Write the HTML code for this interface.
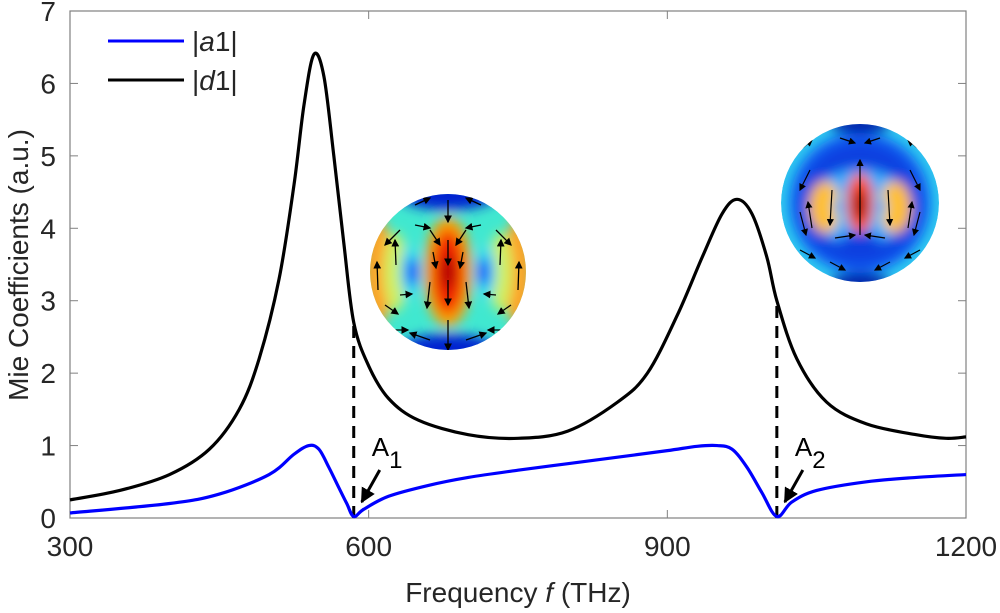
<!DOCTYPE html>
<html><head><meta charset="utf-8"><style>
body{margin:0;background:#fff;}
svg{display:block;font-family:"Liberation Sans",Arial,sans-serif;}
</style></head><body>
<svg id="chart" width="1000" height="613" viewBox="0 0 1000 613">
<defs>
<clipPath id="c1"><circle cx="448" cy="272" r="78"/></clipPath>
<clipPath id="c2"><circle cx="860" cy="203" r="79"/></clipPath>
<filter id="bl" x="-50%" y="-50%" width="200%" height="200%"><feGaussianBlur stdDeviation="6"/></filter>
<marker id="ah" markerWidth="6" markerHeight="6" refX="5" refY="3" orient="auto"><path d="M0,0 L6,3 L0,6 z" fill="#000"/></marker>
<marker id="big" markerWidth="5" markerHeight="5" refX="4.5" refY="2.5" orient="auto" markerUnits="strokeWidth"><path d="M0,0 L5,2.5 L0,5 z" fill="#000"/></marker>
</defs>
<g id="inset1" clip-path="url(#c1)">
<circle cx="448" cy="272" r="78" fill="#40e8d0"/>
<g filter="url(#bl)">
<ellipse cx="378" cy="272" rx="14" ry="55" fill="#ffa020"/>
<ellipse cx="518" cy="272" rx="14" ry="55" fill="#ffa020"/>
<ellipse cx="395" cy="272" rx="12" ry="40" fill="#d0f060"/>
<ellipse cx="501" cy="272" rx="12" ry="40" fill="#d0f060"/>
<ellipse cx="410" cy="272" rx="10" ry="28" fill="#30e0f0"/>
<ellipse cx="486" cy="272" rx="10" ry="28" fill="#30e0f0"/>
<ellipse cx="412" cy="272" rx="6" ry="15" fill="#1030ff"/>
<ellipse cx="484" cy="272" rx="6" ry="15" fill="#1030ff"/>
<ellipse cx="448" cy="272" rx="24" ry="55" fill="#ffa000"/>
<ellipse cx="448" cy="272" rx="16" ry="42" fill="#f02000"/>
<ellipse cx="448" cy="272" rx="6" ry="18" fill="#a00000"/>
<ellipse cx="448" cy="196" rx="48" ry="14" fill="#0020d0"/>
<ellipse cx="448" cy="348" rx="48" ry="14" fill="#0020d0"/>
</g>
<g stroke="#000" stroke-width="1.3" marker-end="url(#ah)">
<line x1="448" y1="200" x2="448" y2="222"/><line x1="448" y1="240" x2="448" y2="265"/><line x1="448" y1="280" x2="448" y2="305"/><line x1="448" y1="320" x2="448" y2="350"/>
<line x1="430" y1="230" x2="440" y2="245"/><line x1="466" y1="230" x2="456" y2="245"/>
<line x1="433" y1="252" x2="436" y2="268"/><line x1="463" y1="252" x2="460" y2="268"/>
<line x1="430" y1="282" x2="427" y2="308"/><line x1="466" y1="282" x2="469" y2="308"/>
<line x1="378" y1="290" x2="377" y2="262"/><line x1="518" y1="290" x2="519" y2="262"/>
<line x1="396" y1="265" x2="395" y2="240"/><line x1="500" y1="265" x2="501" y2="240"/>
<line x1="400" y1="295" x2="412" y2="294"/><line x1="496" y1="295" x2="484" y2="294"/>
<line x1="385" y1="305" x2="398" y2="314"/><line x1="511" y1="305" x2="498" y2="314"/>
<line x1="390" y1="330" x2="408" y2="330"/><line x1="506" y1="330" x2="488" y2="330"/>
<line x1="400" y1="230" x2="385" y2="245"/><line x1="496" y1="230" x2="511" y2="245"/>
<line x1="415" y1="225" x2="430" y2="228"/><line x1="481" y1="225" x2="466" y2="228"/>
<line x1="430" y1="340" x2="410" y2="333"/><line x1="466" y1="340" x2="486" y2="333"/>
<line x1="415" y1="205" x2="430" y2="198"/><line x1="481" y1="205" x2="466" y2="198"/>
</g>
</g>
<g id="inset2" clip-path="url(#c2)">
<circle cx="860" cy="203" r="79" fill="#30c8f0"/>
<g filter="url(#bl)">
<circle cx="860" cy="203" r="70" fill="#1058f0"/>
<circle cx="860" cy="203" r="60" fill="#1040e0"/>
<ellipse cx="860" cy="207" rx="50" ry="38" fill="#30b0ff"/>
<ellipse cx="825" cy="207" rx="16" ry="26" fill="#ffc030"/>
<ellipse cx="895" cy="207" rx="16" ry="26" fill="#ffc030"/>
<ellipse cx="840" cy="207" rx="6" ry="12" fill="#40e0ff"/>
<ellipse cx="880" cy="207" rx="6" ry="12" fill="#40e0ff"/>
<ellipse cx="840" cy="207" rx="3" ry="6" fill="#1030ff"/>
<ellipse cx="880" cy="207" rx="3" ry="6" fill="#1030ff"/>
<ellipse cx="860" cy="203" rx="14" ry="30" fill="#ff5000"/>
<ellipse cx="860" cy="205" rx="7" ry="16" fill="#a00000"/>
<ellipse cx="860" cy="240" rx="20" ry="8" fill="#1040e0"/>
<ellipse cx="860" cy="125" rx="30" ry="8" fill="#0010a0"/>
<ellipse cx="860" cy="282" rx="30" ry="8" fill="#0010a0"/>
</g>
<g stroke="#000" stroke-width="1.2" marker-end="url(#ah)">
<line x1="860" y1="235" x2="860" y2="160"/><line x1="832" y1="190" x2="830" y2="225"/><line x1="888" y1="190" x2="890" y2="225"/>
<line x1="812" y1="228" x2="808" y2="202"/><line x1="908" y1="228" x2="912" y2="202"/>
<line x1="810" y1="170" x2="800" y2="190"/><line x1="910" y1="170" x2="920" y2="190"/><line x1="800" y1="212" x2="806" y2="235"/><line x1="920" y1="212" x2="914" y2="235"/>
<line x1="840" y1="138" x2="855" y2="143"/><line x1="880" y1="138" x2="865" y2="143"/><line x1="835" y1="238" x2="855" y2="235"/><line x1="885" y1="238" x2="865" y2="235"/>
<line x1="800" y1="250" x2="815" y2="258"/><line x1="920" y1="250" x2="905" y2="258"/>
<line x1="830" y1="262" x2="845" y2="270"/><line x1="890" y1="262" x2="875" y2="270"/>
<line x1="800" y1="150" x2="812" y2="140"/><line x1="920" y1="150" x2="908" y2="140"/>
</g>
</g>
<g id="plot"></g>
</svg>
<script>
const freqD=[300,350,400,440,470,490,510,525,535,545,555,565,575,585,600,620,650,700,750,800,850,880,910,935,955,970,985,1000,1010,1030,1060,1100,1150,1180,1200];
const valD=[0.25,0.38,0.6,0.95,1.5,2.2,3.3,4.6,5.7,6.4,6.1,5.0,3.8,2.7,2.1,1.65,1.35,1.15,1.1,1.2,1.6,2.0,2.8,3.6,4.2,4.4,4.2,3.6,3.0,2.2,1.6,1.3,1.15,1.1,1.12];
const freqA=[300,400,450,500,525,540,550,560,570,578,585,595,620,660,700,750,800,850,900,930,950,965,980,995,1010,1025,1050,1100,1150,1200];
const valA=[0.07,0.2,0.33,0.6,0.88,1.0,0.95,0.7,0.42,0.2,0.02,0.12,0.3,0.45,0.56,0.66,0.75,0.84,0.93,0.99,1.0,0.95,0.7,0.35,0.02,0.22,0.38,0.5,0.56,0.6];
const xTicks=[300,600,900,1200];
const yTicks=[0,1,2,3,4,5,6,7];
const markers=[{f:585,label:"1"},{f:1010,label:"2"}];
const X0=70,X1=966,Y0=518,Y1=11;
const sx=f=>X0+(f-300)/900*(X1-X0);
const sy=v=>Y0-v/7*(Y0-Y1);
const NS="http://www.w3.org/2000/svg";
const g=document.getElementById('plot');
function mk(t,a,p){const e=document.createElementNS(NS,t);for(const k in a)e.setAttribute(k,a[k]);(p||g).appendChild(e);return e;}
function interp(fs,vs,f){for(let i=0;i<fs.length-1;i++){if(f>=fs[i]&&f<=fs[i+1]){return vs[i]+(vs[i+1]-vs[i])*(f-fs[i])/(fs[i+1]-fs[i]);}}return vs[vs.length-1];}
function pathFor(fs,vs){const p=fs.map((f,i)=>[sx(f),sy(vs[i])]);let d="M"+p[0][0]+","+p[0][1];
for(let i=0;i<p.length-1;i++){const p0=p[Math.max(0,i-1)],p1=p[i],p2=p[i+1],p3=p[Math.min(p.length-1,i+2)];
const k=1/6;d+=" C"+(p1[0]+(p2[0]-p0[0])*k)+","+(p1[1]+(p2[1]-p0[1])*k)+" "+(p2[0]-(p3[0]-p1[0])*k)+","+(p2[1]-(p3[1]-p1[1])*k)+" "+p2[0]+","+p2[1];}return d;}
const box=mk('rect',{x:X0,y:Y1,width:X1-X0,height:Y0-Y1,fill:'none',stroke:'#808080','stroke-width':1.2});


yTicks.forEach(v=>{
 mk('line',{x1:X0,x2:X0+8,y1:sy(v),y2:sy(v),stroke:'#808080'});
 mk('line',{x1:X1,x2:X1-8,y1:sy(v),y2:sy(v),stroke:'#808080'});
 const t=mk('text',{x:X0-14,y:sy(v)+10,'text-anchor':'end','font-size':28,fill:'#262626'});t.textContent=v;
 
 
});
xTicks.forEach(f=>{
 mk('line',{x1:sx(f),x2:sx(f),y1:Y0,y2:Y0-8,stroke:'#808080'});
 mk('line',{x1:sx(f),x2:sx(f),y1:Y1,y2:Y1+8,stroke:'#808080'});
 const t=mk('text',{x:sx(f),y:Y0+38,'text-anchor':'middle','font-size':28,fill:'#262626'});t.textContent=f;
 
 
});
markers.forEach(m=>{
 const l=mk('line',{x1:sx(m.f),x2:sx(m.f),y1:Y0,y2:sy(interp(freqD,valD,m.f)),stroke:'#000','stroke-width':3,'stroke-dasharray':'12,8'});
 
 
 const x=sx(m.f);
 const t=mk('text',{x:x+18,y:Y0-62,'font-size':26,fill:'#000'});t.innerHTML='A<tspan dy="12" font-size="24">'+m.label+'</tspan>';
 
 
 const a=mk('line',{x1:x+26,y1:Y0-48,x2:x+8,y2:Y0-16,stroke:'#000','stroke-width':3,'marker-end':'url(#big)'});
 
 
});
const d1=mk('path',{d:pathFor(freqD,valD),fill:'none',stroke:'#000','stroke-width':3.2});


const a1=mk('path',{d:pathFor(freqA,valA),fill:'none',stroke:'#0000ff','stroke-width':3.2});


const lg=mk('g',{});


mk('line',{x1:108,x2:184,y1:41,y2:41,stroke:'#0000ff','stroke-width':3},lg);
mk('line',{x1:108,x2:184,y1:80,y2:80,stroke:'#000','stroke-width':3},lg);
let t=mk('text',{x:192,y:51,'font-size':28,fill:'#262626'},lg);t.innerHTML='|<tspan font-style="italic">a</tspan>1|';


t=mk('text',{x:192,y:90,'font-size':28,fill:'#262626'},lg);t.innerHTML='|<tspan font-style="italic">d</tspan>1|';


t=mk('text',{x:518,y:602,'text-anchor':'middle','font-size':28,fill:'#262626'});t.innerHTML='Frequency <tspan font-style="italic">f</tspan> (THz)';


t=mk('text',{x:0,y:0,'text-anchor':'middle','font-size':28,fill:'#262626',transform:'translate(28,265) rotate(-90)'});t.textContent='Mie Coefficients (a.u.)';


</script>
</body></html>
